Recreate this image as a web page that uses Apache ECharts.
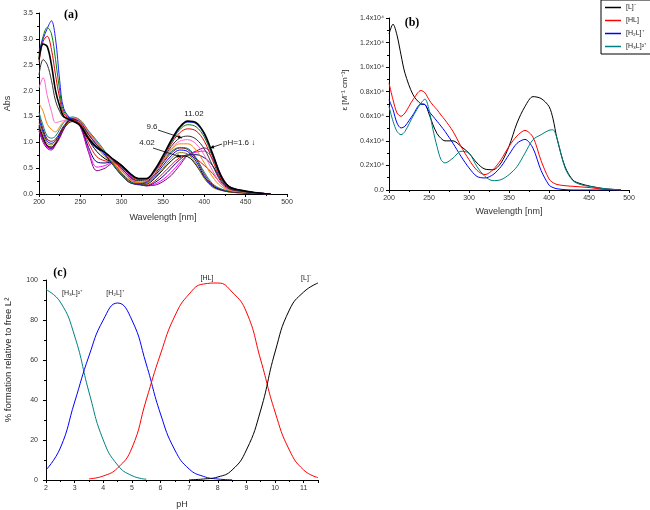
<!DOCTYPE html>
<html>
<head>
<meta charset="utf-8">
<script src="https://cdn.jsdelivr.net/npm/echarts@6/dist/echarts.min.js"></script>
<style>
  html, body {margin: 0; padding: 0; background: #fff;}
  #main {width: 650px; height: 510px;}
</style>
</head>
<body>
<div id="main"></div>
<script>
// (a) absorbance titration, one array per pH step
var wlA = [200, 205, 210, 215, 220, 225, 230, 240, 250, 260, 270, 280, 290, 300, 310, 320, 330, 340, 350, 360, 370, 380, 390, 400, 410, 420, 430, 445, 460, 480];
var absA = [
  [1.22, 1.0, 0.88, 0.85, 0.95, 1.08, 1.25, 1.48, 1.3, 0.8, 0.45, 0.5, 0.6, 0.55, 0.36, 0.22, 0.16, 0.17, 0.24, 0.36, 0.55, 0.75, 0.83, 0.89, 0.75, 0.38, 0.15, 0.07, 0.03, 0],
  [1.25, 1.03, 0.9, 0.87, 0.96, 1.1, 1.27, 1.47, 1.3, 0.84, 0.52, 0.55, 0.62, 0.53, 0.35, 0.21, 0.16, 0.19, 0.28, 0.42, 0.6, 0.76, 0.81, 0.83, 0.68, 0.34, 0.13, 0.06, 0.03, 0],
  [1.28, 1.06, 0.92, 0.88, 0.97, 1.12, 1.28, 1.45, 1.32, 0.9, 0.62, 0.6, 0.62, 0.5, 0.32, 0.2, 0.16, 0.22, 0.34, 0.5, 0.66, 0.76, 0.76, 0.7, 0.55, 0.27, 0.11, 0.05, 0.02, 0],
  [1.3, 1.08, 0.93, 0.9, 0.98, 1.12, 1.28, 1.43, 1.33, 0.98, 0.72, 0.64, 0.62, 0.46, 0.29, 0.19, 0.17, 0.25, 0.4, 0.56, 0.7, 0.75, 0.68, 0.55, 0.4, 0.2, 0.08, 0.04, 0.02, 0],
  [1.33, 1.1, 0.94, 0.91, 0.98, 1.12, 1.27, 1.4, 1.33, 1.05, 0.82, 0.68, 0.6, 0.4, 0.25, 0.18, 0.19, 0.3, 0.47, 0.64, 0.74, 0.72, 0.56, 0.32, 0.16, 0.08, 0.04, 0.02, 0.01, 0],
  [1.38, 1.15, 0.98, 0.95, 1.0, 1.13, 1.28, 1.42, 1.36, 1.1, 0.9, 0.72, 0.58, 0.38, 0.23, 0.18, 0.2, 0.32, 0.5, 0.69, 0.8, 0.77, 0.58, 0.3, 0.13, 0.07, 0.04, 0.02, 0.01, 0],
  [1.45, 1.2, 1.02, 0.98, 1.03, 1.15, 1.3, 1.45, 1.4, 1.15, 0.95, 0.75, 0.56, 0.36, 0.22, 0.19, 0.22, 0.35, 0.55, 0.74, 0.85, 0.82, 0.63, 0.34, 0.15, 0.08, 0.05, 0.03, 0.01, 0],
  [1.52, 1.25, 1.06, 1.02, 1.06, 1.18, 1.32, 1.47, 1.42, 1.2, 1.0, 0.78, 0.55, 0.36, 0.22, 0.2, 0.24, 0.38, 0.6, 0.79, 0.89, 0.86, 0.68, 0.38, 0.18, 0.09, 0.05, 0.03, 0.01, 0],
  [1.58, 1.32, 1.12, 1.08, 1.12, 1.25, 1.38, 1.49, 1.43, 1.22, 1.03, 0.82, 0.56, 0.36, 0.23, 0.21, 0.26, 0.42, 0.63, 0.82, 0.9, 0.88, 0.7, 0.42, 0.2, 0.1, 0.06, 0.04, 0.02, 0],
  [1.75, 1.6, 1.35, 1.25, 1.2, 1.3, 1.4, 1.48, 1.42, 1.2, 1.0, 0.8, 0.6, 0.42, 0.27, 0.22, 0.26, 0.42, 0.64, 0.85, 0.97, 0.97, 0.85, 0.6, 0.33, 0.15, 0.07, 0.04, 0.02, 0],
  [2.05, 2.25, 1.9, 1.6, 1.38, 1.4, 1.42, 1.47, 1.4, 1.18, 0.98, 0.8, 0.62, 0.46, 0.3, 0.24, 0.27, 0.43, 0.66, 0.88, 1.02, 1.05, 0.97, 0.75, 0.45, 0.2, 0.08, 0.05, 0.02, 0],
  [2.3, 2.6, 2.5, 2.2, 1.8, 1.6, 1.48, 1.46, 1.38, 1.15, 0.95, 0.8, 0.64, 0.5, 0.33, 0.26, 0.28, 0.44, 0.68, 0.92, 1.08, 1.12, 1.06, 0.87, 0.55, 0.24, 0.1, 0.05, 0.02, 0],
  [2.55, 2.95, 3.05, 2.8, 2.3, 1.85, 1.55, 1.44, 1.35, 1.1, 0.92, 0.8, 0.65, 0.53, 0.37, 0.28, 0.29, 0.45, 0.7, 0.97, 1.18, 1.26, 1.22, 1.02, 0.65, 0.29, 0.12, 0.06, 0.03, 0],
  [2.7, 3.05, 3.22, 3.1, 2.6, 2.0, 1.6, 1.43, 1.33, 1.08, 0.9, 0.8, 0.66, 0.55, 0.39, 0.29, 0.3, 0.46, 0.72, 1.0, 1.24, 1.34, 1.3, 1.1, 0.72, 0.32, 0.13, 0.06, 0.03, 0],
  [2.75, 3.0, 3.2, 3.35, 3.0, 2.2, 1.65, 1.43, 1.32, 1.06, 0.88, 0.8, 0.67, 0.56, 0.4, 0.3, 0.3, 0.46, 0.73, 1.02, 1.27, 1.39, 1.36, 1.15, 0.76, 0.34, 0.14, 0.06, 0.03, 0],
  [2.6, 2.9, 2.85, 2.5, 2.0, 1.7, 1.5, 1.42, 1.32, 1.07, 0.9, 0.8, 0.67, 0.55, 0.4, 0.3, 0.3, 0.47, 0.74, 1.04, 1.29, 1.41, 1.38, 1.17, 0.78, 0.35, 0.14, 0.07, 0.03, 0]
];
var colorsA = ["#800080", "#ff00ff", "#000080", "#ff0000", "#000000", "#808000", "#0000ff", "#800000",
  "#008080", "#ff8000", "#ff66cc", "#333333", "#e00000", "#008000", "#2020ff", "#000000"];

// (b) molar absorptivity of the species, in 10^4 M-1 cm-1
var wlB = [200, 205, 210, 215, 220, 230, 240, 245, 250, 255, 260, 265, 270, 280, 290, 300, 310, 320, 330, 340, 350, 360, 370, 380, 390, 400, 405, 410, 420, 430, 440, 450, 460, 470, 480, 490];
var epsL = [1.27, 1.35, 1.26, 1.1, 0.95, 0.776, 0.70, 0.695, 0.62, 0.53, 0.46, 0.42, 0.40, 0.40, 0.355, 0.30, 0.22, 0.17, 0.165, 0.22, 0.355, 0.545, 0.68, 0.76, 0.745, 0.68, 0.58, 0.42, 0.19, 0.08, 0.05, 0.033, 0.02, 0.01, 0.005, 0.002];
var epsHL = [0.87, 0.735, 0.627, 0.60, 0.627, 0.735, 0.81, 0.79, 0.735, 0.69, 0.654, 0.61, 0.57, 0.477, 0.355, 0.247, 0.16, 0.125, 0.165, 0.247, 0.355, 0.44, 0.485, 0.43, 0.24, 0.09, 0.06, 0.045, 0.035, 0.03, 0.025, 0.02, 0.012, 0.006, 0.003, 0];
var epsH2L = [0.735, 0.654, 0.545, 0.505, 0.52, 0.613, 0.70, 0.695, 0.64, 0.60, 0.56, 0.52, 0.477, 0.38, 0.274, 0.18, 0.11, 0.098, 0.125, 0.19, 0.288, 0.38, 0.412, 0.34, 0.16, 0.04, 0.02, 0.01, 0.003, 0, 0, 0, 0, 0, 0, 0];
var epsH3L = [0.68, 0.56, 0.477, 0.45, 0.477, 0.60, 0.708, 0.74, 0.654, 0.49, 0.355, 0.247, 0.22, 0.26, 0.315, 0.30, 0.19, 0.11, 0.076, 0.084, 0.125, 0.19, 0.30, 0.41, 0.45, 0.486, 0.49, 0.42, 0.18, 0.075, 0.043, 0.03, 0.02, 0.01, 0.005, 0];

// (c) species distribution vs pH
var phC = [2, 2.5, 3, 3.5, 4, 4.5, 5, 5.5, 6, 6.5, 7, 7.5, 8, 8.5, 9, 9.5, 10, 10.5, 11, 11.5];
var pctH3L = [95.2, 89, 72, 44, 20, 7.5, 2.2, 0.4, null, null, null, null, null, null, null, null, null, null, null, null];
var pctH2L = [5, 16, 39, 62, 80, 88.5, 80, 58, 33, 15, 5.5, 1.8, 0.5, 0.1, null, null, null, null, null, null];
var pctHL = [null, null, null, 0.6, 2, 6, 16, 40, 63, 82, 93, 98, 98.5, 94, 84, 60, 34, 15, 5, 1.2];
var pctL = [null, null, null, null, null, null, null, null, null, null, 0.1, 0.5, 1.5, 5, 15, 35, 64, 85, 94, 98.5];

var legendNames = ["[L]⁻", "[HL]", "[H₂L]⁺", "[H₃L]²⁺"];

function pairs(x, y) {
  var out = [];
  for (var i = 0; i < x.length; i++) out.push([x[i], y[i]]);
  return out;
}

function axisX(idx, min, max, interval, name, gap) {
  return {
    gridIndex: idx, type: "value", min: min, max: max, interval: interval,
    name: name, nameLocation: "middle", nameGap: gap,
    nameTextStyle: {fontSize: 9, color: "#333", fontFamily: "Arial"},
    axisLine: {lineStyle: {color: "#000", width: 1}},
    axisTick: {length: 3, lineStyle: {color: "#000"}},
    minorTick: {show: true, splitNumber: 2, length: 2, lineStyle: {color: "#000"}},
    axisLabel: {fontSize: 7, color: "#333", fontFamily: "Arial", margin: 5, showMaxLabel: idx !== 2},
    splitLine: {show: false}
  };
}

function axisY(idx, min, max, interval, fmt, margin) {
  return {
    gridIndex: idx, type: "value", min: min, max: max, interval: interval,
    axisLine: {show: true, lineStyle: {color: "#000", width: 1}},
    axisTick: {show: true, length: 3, lineStyle: {color: "#000"}},
    minorTick: {show: true, splitNumber: 2, length: 2, lineStyle: {color: "#000"}},
    axisLabel: {fontSize: 7, color: "#333", fontFamily: "Arial", margin: margin, formatter: fmt},
    splitLine: {show: false}
  };
}

var series = [];
for (var k = 0; k < absA.length; k++) {
  series.push({
    name: "pH step " + (k + 1), type: "line", xAxisIndex: 0, yAxisIndex: 0,
    data: pairs(wlA, absA[k]), smooth: 0.35, symbol: "none",
    lineStyle: {color: colorsA[k], width: k === absA.length - 1 ? 1.6 : 1},
    itemStyle: {color: colorsA[k]}, silent: true
  });
}
var specB = [epsL, epsHL, epsH2L, epsH3L];
var colorsB = ["#000000", "#ff0000", "#0000ff", "#008080"];
for (var j = 0; j < specB.length; j++) {
  series.push({
    name: legendNames[j], type: "line", xAxisIndex: 1, yAxisIndex: 1,
    data: pairs(wlB, specB[j]), smooth: 0.3, symbol: "none",
    lineStyle: {color: colorsB[j], width: 1}, itemStyle: {color: colorsB[j]}
  });
}
var specC = [pctH3L, pctH2L, pctHL, pctL];
var colorsC = ["#008080", "#0000ff", "#ff0000", "#000000"];
for (var m = 0; m < specC.length; m++) {
  series.push({
    name: "dist " + m, type: "line", xAxisIndex: 2, yAxisIndex: 2,
    data: pairs(phC, specC[m]), smooth: 0.5, symbol: "none",
    lineStyle: {color: colorsC[m], width: 1}, itemStyle: {color: colorsC[m]}
  });
}

function label(x, y, text, size, extra) {
  var s = {text: text, x: x, y: y, fontSize: size, fontFamily: "Arial", fill: "#222", align: "center", verticalAlign: "middle"};
  for (var key in extra) s[key] = extra[key];
  return {type: "text", style: s, z: 10};
}
function rotated(x, y, text, size) {
  return {type: "text", x: x, y: y, rotation: Math.PI / 2, z: 10,
    style: {text: text, x: 0, y: 0, fontSize: size, fontFamily: "Arial", fill: "#222", align: "center", verticalAlign: "middle"}};
}
function arrow(x1, y1, x2, y2) {
  var dx = x2 - x1, dy = y2 - y1, len = Math.sqrt(dx * dx + dy * dy);
  var ux = dx / len, uy = dy / len;
  var bx = x2 - ux * 4, by = y2 - uy * 4;
  return [
    {type: "line", shape: {x1: x1, y1: y1, x2: x2, y2: y2}, style: {stroke: "#000", lineWidth: 0.8}, z: 10},
    {type: "polygon", shape: {points: [[x2, y2], [bx - uy * 1.8, by + ux * 1.8], [bx + uy * 1.8, by - ux * 1.8]]}, style: {fill: "#000"}, z: 10}
  ];
}

var bold = {fontFamily: "Liberation Serif", fontWeight: "bold", fill: "#000"};
var graphics = [
  label(71, 15, "(a)", 12, bold),
  label(412, 23, "(b)", 12, bold),
  label(60, 273, "(c)", 12, bold),
  label(194, 114, "11.02", 8),
  label(152, 127, "9.6", 8),
  label(147, 143, "4.02", 8),
  label(223, 143, "pH=1.6 ↓", 8, {align: "left"}),
  rotated(345, 90, "ε [M⁻¹ cm⁻¹]", 8),
  rotated(8, 360, "% formation relative to free L²", 9.5),
  label(72, 293, "[H₃L]²⁺", 7),
  label(115, 293, "[H₂L]⁺", 7),
  label(207, 278, "[HL]", 7),
  label(306, 278, "[L]⁻", 7)
];
graphics = graphics.concat(arrow(158, 130, 182, 138), arrow(153, 148, 181, 157), arrow(222, 144, 210, 148));

var chart = echarts.init(document.getElementById("main"), null, {renderer: "canvas"});
var option = {
  animation: false,
  backgroundColor: "#fff",
  grid: [
    {left: 39, top: 13, width: 248, height: 181, outerBoundsMode: "none"},
    {left: 389, top: 18, width: 240, height: 172, outerBoundsMode: "none"},
    {left: 46, top: 280, width: 272, height: 200, outerBoundsMode: "none"}
  ],
  legend: {
    data: legendNames, orient: "vertical", left: 601, top: 0,
    icon: "rect", itemWidth: 16, itemHeight: 1.5, itemGap: 6, padding: [4, 20, 4, 4],
    borderColor: "#000", borderWidth: 1, backgroundColor: "#fff",
    textStyle: {fontSize: 7, color: "#222", fontFamily: "Arial"}, selectedMode: false
  },
  xAxis: [
    axisX(0, 200, 500, 50, "Wavelength [nm]", 19),
    axisX(1, 200, 500, 50, "Wavelength [nm]", 17),
    axisX(2, 2, 11.5, 1, "pH", 20)
  ],
  yAxis: [
    (function () {
      var a = axisY(0, 0, 3.5, 0.5, function (v) { return v.toFixed(1); }, 6);
      a.name = "Abs"; a.nameLocation = "middle"; a.nameGap = 27;
      a.nameTextStyle = {fontSize: 9, color: "#333", fontFamily: "Arial"};
      return a;
    })(),
    axisY(1, 0, 1.4, 0.2, function (v) { return v === 0 ? "0.0" : v.toFixed(1) + "x10⁴"; }, 5),
    axisY(2, 0, 100, 20, null, 8)
  ],
  series: series,
  graphic: graphics
};
chart.setOption(option);
</script>
</body>
</html>
